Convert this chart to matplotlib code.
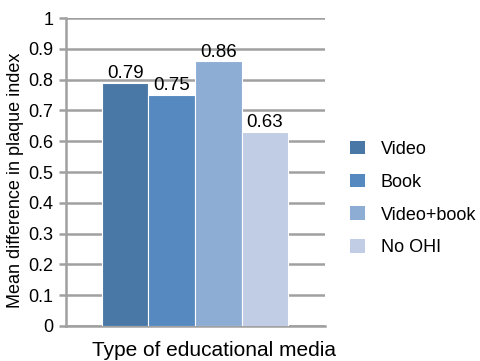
import matplotlib.pyplot as plt
from matplotlib.patches import Patch

plt.rcParams['font.family'] = ['Liberation Sans', 'DejaVu Sans']

media = ['Video', 'Book', 'Video+book', 'No OHI']
mean_diff = [0.79, 0.75, 0.86, 0.63]
colors = ['#4a78a6', '#5689c0', '#8eadd4', '#c1cde5']
yticks = [0, 0.1, 0.2, 0.3, 0.4, 0.5, 0.6, 0.7, 0.8, 0.9, 1]

fig = plt.figure(figsize=(4.81, 3.61), dpi=100)
ax = fig.add_axes([0.137, 0.097, 0.539, 0.853])

x = range(len(media))
bars = ax.bar(x, mean_diff, width=1.0, color=colors, edgecolor='white',
              linewidth=0.8, zorder=3)
for b, v in zip(bars, mean_diff):
    ax.text(b.get_x() + b.get_width() / 2, v + 0.002, f'{v:.2f}',
            ha='center', va='bottom', fontsize=13.5, zorder=4)

ax.set_xlim(-1.274, 4.296)
ax.set_ylim(0, 1)
ax.set_yticks(yticks)
ax.set_yticklabels([f'{t:g}' for t in yticks], fontsize=13)
ax.set_xticks([])
ax.yaxis.grid(True, color='#a0a0a0', linewidth=1.8, zorder=0)
ax.tick_params(axis='y', length=5, width=1.8, color='#a0a0a0', pad=4)

for s in ['top', 'right']:
    ax.spines[s].set_visible(False)
for s in ['left', 'bottom']:
    ax.spines[s].set_color('#a0a0a0')
    ax.spines[s].set_linewidth(1.8)

ax.set_ylabel('Mean difference in plaque index', fontsize=13)
ax.yaxis.set_label_coords(-0.16, 0.474)
ax.set_xlabel('Type of educational media', fontsize=15)
ax.xaxis.set_label_coords(0.571, -0.05)

handles = [Patch(facecolor=c, edgecolor='none') for c in colors]
fig.legend(handles, media, loc='center left', bbox_to_anchor=(0.694, 0.45),
           frameon=False, fontsize=13, handlelength=0.8, handleheight=0.8,
           labelspacing=0.87, handletextpad=0.9)

fig.savefig('out.png', dpi=100)
